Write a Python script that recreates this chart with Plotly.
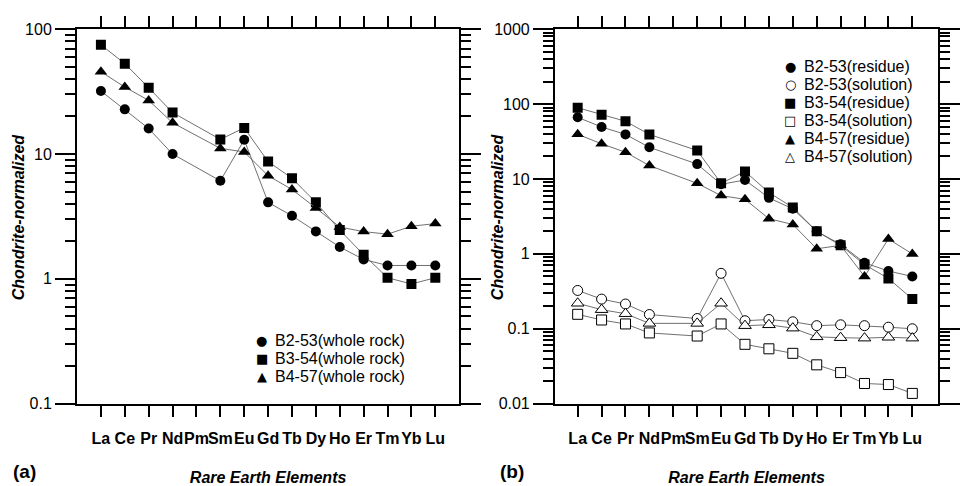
import plotly.graph_objects as go

# ---------------- data ----------------
elements = ["La", "Ce", "Pr", "Nd", "Pm", "Sm", "Eu", "Gd", "Tb", "Dy", "Ho", "Er", "Tm", "Yb", "Lu"]

# panel (a): whole rock
b2_53_whole = [32, 22.8, 16, 10, None, 6.1, 13, 4.1, 3.2, 2.4, 1.8, 1.43, 1.28, 1.28, 1.28]
b3_54_whole = [75, 53, 34, 21.5, None, 13.1, 16.2, 8.7, 6.4, 4.1, 2.46, 1.56, 1.02, 0.91, 1.02]
b4_57_whole = [45.7, 34.4, 26.9, 17.8, None, 11.1, 10.4, 6.7, 5.2, 3.7, 2.6, 2.39, 2.28, 2.64, 2.77]

# panel (b): residue
b2_53_res = [66.6, 49.5, 39.4, 26.5, None, 15.8, 8.5, 9.7, 5.6, 4.0, 2.0, 1.34, 0.76, 0.59, 0.50]
b3_54_res = [89.6, 72, 59, 39.4, None, 24, 8.75, 12.6, 6.6, 4.17, 2.0, 1.30, 0.72, 0.47, 0.25]
b4_57_res = [39.6, 29.5, 22.8, 15.1, None, 8.75, 6.0, 5.35, 2.95, 2.47, 1.17, 1.30, 0.50, 1.58, 1.0]

# panel (b): solution
b2_53_sol = [0.325, 0.249, 0.214, 0.155, None, 0.137, 0.55, 0.128, 0.133, 0.124, 0.11, 0.113, 0.11, 0.105, 0.100]
b3_54_sol = [0.156, 0.131, 0.116, 0.088, None, 0.080, 0.116, 0.062, 0.054, 0.047, 0.033, 0.026, 0.0186, 0.018, 0.0137]
b4_57_sol = [0.219, 0.18, 0.159, 0.118, None, 0.118, 0.219, 0.11, 0.113, 0.102, 0.078, 0.076, 0.075, 0.077, 0.075]

names_a = ["B2-53(whole rock)", "B3-54(whole rock)", "B4-57(whole rock)"]
names_b = ["B2-53(residue)", "B2-53(solution)", "B3-54(residue)",
           "B3-54(solution)", "B4-57(residue)", "B4-57(solution)"]

y_title = "Chondrite-normalized"
x_title = "Rare Earth Elements"

# ---------------- styling ----------------
W, H = 960, 486
FONT = "Arial, 'Liberation Sans', sans-serif"
LINE = dict(color="#606060", width=0.9)

def px_x(p):
    return p / W

def px_y(p):
    return 1 - p / H

styles = {
    "circle": dict(symbol="circle", size=10, color="black"),
    "square": dict(symbol="square", size=10, color="black"),
    "triangle": dict(symbol="triangle-up", size=11, color="black"),
    "circle-o": dict(symbol="circle", size=10, color="white", line=dict(color="black", width=1)),
    "square-o": dict(symbol="square", size=10, color="white", line=dict(color="black", width=1)),
    "triangle-o": dict(symbol="triangle-up", size=11, color="white", line=dict(color="black", width=1)),
}
glyphs = {"circle": "●", "square": "■", "triangle": "▲",
          "circle-o": "○", "square-o": "□", "triangle-o": "△"}

series_a = [(names_a[0], b2_53_whole, "circle"),
            (names_a[1], b3_54_whole, "square"),
            (names_a[2], b4_57_whole, "triangle")]
series_b = [(names_b[0], b2_53_res, "circle"),
            (names_b[1], b2_53_sol, "circle-o"),
            (names_b[2], b3_54_res, "square"),
            (names_b[3], b3_54_sol, "square-o"),
            (names_b[4], b4_57_res, "triangle"),
            (names_b[5], b4_57_sol, "triangle-o")]

fig = go.Figure()
for name, vals, st in series_a:
    fig.add_trace(go.Scatter(x=elements, y=vals, name=name, mode="lines+markers",
                             connectgaps=True, line=LINE, marker=styles[st],
                             xaxis="x", yaxis="y", showlegend=False))
for name, vals, st in series_b:
    fig.add_trace(go.Scatter(x=elements, y=vals, name=name, mode="lines+markers",
                             connectgaps=True, line=LINE, marker=styles[st],
                             xaxis="x2", yaxis="y2", showlegend=False))

def xaxis(domain, rng, anchor):
    return dict(domain=domain, anchor=anchor, type="category",
                categoryorder="array", categoryarray=elements, range=rng,
                showline=True, linewidth=2, linecolor="black", mirror="allticks",
                ticks="outside", ticklen=11, tickwidth=2, tickcolor="black",
                tickangle=0, ticklabelstandoff=8,
                showgrid=False, zeroline=False,
                tickfont=dict(family=FONT, size=16, color="black", weight="bold"),
                title=dict(text=x_title, standoff=27,
                           font=dict(family=FONT, size=16, color="black",
                                     weight="bold", style="italic")))

def yaxis(domain, rng, anchor):
    return dict(domain=domain, anchor=anchor, type="log", range=rng,
                dtick=1, exponentformat="none",
                showline=True, linewidth=2, linecolor="black", mirror="allticks",
                ticks="outside", ticklen=20, tickwidth=2, tickcolor="black",
                minor=dict(ticks="outside", ticklen=10, tickwidth=2, tickcolor="black",
                           dtick="D1", showgrid=False),
                showgrid=False, zeroline=False,
                tickfont=dict(family=FONT, size=16, color="black"))

ydom = [px_y(410), px_y(22)]
fig.update_layout(
    width=W, height=H,
    margin=dict(l=0, r=0, t=0, b=0),
    paper_bgcolor="white", plot_bgcolor="white",
    showlegend=False,
    xaxis=xaxis([px_x(78), px_x(465)], [-1, 15], "y"),
    yaxis=yaxis(ydom, [-1, 2], "x"),
    xaxis2=xaxis([px_x(562), px_x(950)], [-0.95, 15.08], "y2"),
    yaxis2=yaxis(ydom, [-2, 3], "x2"),
)

ann = []
# y-axis titles
for xc in (19, 504):
    ann.append(dict(text=y_title, x=px_x(xc), y=px_y(216), xref="paper", yref="paper",
                    showarrow=False, textangle=-90, xanchor="center", yanchor="middle",
                    font=dict(family=FONT, size=16, color="black", weight="bold", style="italic")))
# panel labels
for lab, xc in (("(a)", 25), ("(b)", 518)):
    ann.append(dict(text=lab, x=px_x(xc), y=px_y(480), xref="paper", yref="paper",
                    showarrow=False, xanchor="center", yanchor="middle",
                    font=dict(family=FONT, size=19, color="black", weight="bold")))

# legends (glyph + text)
def legend(entries, gx, tx, rows):
    for (name, _, st), yc in zip(entries, rows):
        ann.append(dict(text=glyphs[st], x=px_x(gx), y=px_y(yc), xref="paper", yref="paper",
                        showarrow=False, xanchor="center", yanchor="middle",
                        font=dict(family="DejaVu Sans", size=13, color="black")))
        ann.append(dict(text=name, x=px_x(tx), y=px_y(yc), xref="paper", yref="paper",
                        showarrow=False, xanchor="left", yanchor="middle",
                        font=dict(family=FONT, size=16, color="black")))

legend(series_a, 265, 276, [345, 363.5, 382])
legend(series_b, 800, 812, [61, 79.5, 98, 116.5, 135, 153.5])

fig.update_layout(annotations=ann)
fig.write_html("out.html")
